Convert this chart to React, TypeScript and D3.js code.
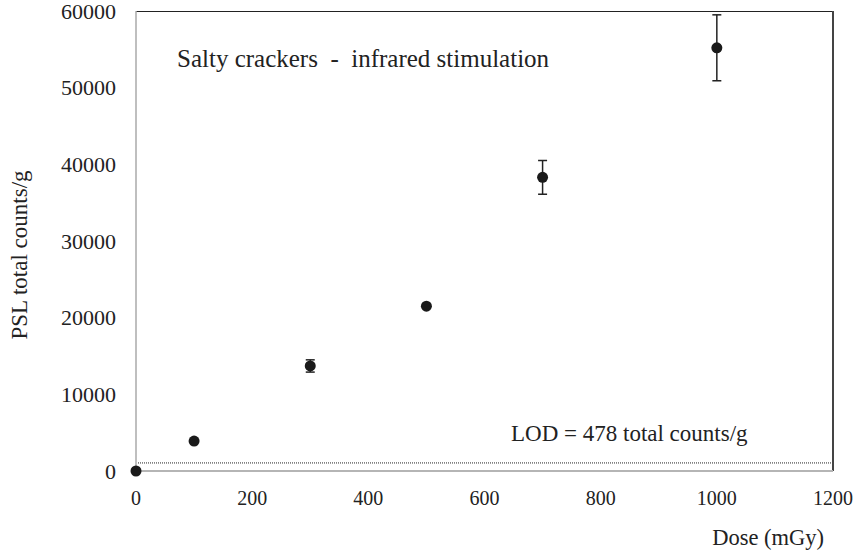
import * as d3 from "d3";
import React, { useEffect, useRef } from "react";

// dose (mGy) and mean PSL counts with error
const doses = [0, 100, 300, 500, 700, 1000];
const counts = [0, 3900, 13700, 21500, 38300, 55200];
const errors = [0, 0, 800, 0, 2200, 4300];
const xTicks = [0, 200, 400, 600, 800, 1000, 1200];
const yTicks = [0, 10000, 20000, 30000, 40000, 50000, 60000];
const lodLevel = 1050;

const App: React.FC = () => {
  const ref = useRef<SVGSVGElement>(null);

  useEffect(() => {
    if (!ref.current) return;
    const svg = d3.select(ref.current);
    svg.selectAll("*").remove();

    const width = 857,
      height = 552,
      margin = { top: 11, right: 24, bottom: 81, left: 136 };
    const font = "'Liberation Serif', 'Times New Roman', serif";

    const x = d3
      .scaleLinear()
      .domain([0, 1200])
      .range([margin.left, width - margin.right]);
    const y = d3
      .scaleLinear()
      .domain([0, 60000])
      .range([height - margin.bottom, margin.top]);

    const pts = doses.map((d, i) => ({ d, c: counts[i], e: errors[i] }));

    // frame: top & right dark, left & bottom gray
    svg
      .append("line")
      .attr("x1", x(0))
      .attr("x2", x(1200))
      .attr("y1", y(60000) + 0.5)
      .attr("y2", y(60000) + 0.5)
      .attr("stroke", "#222")
      .attr("stroke-width", 1);
    svg
      .append("line")
      .attr("x1", x(1200))
      .attr("x2", x(1200))
      .attr("y1", y(60000))
      .attr("y2", y(0))
      .attr("stroke", "#444")
      .attr("stroke-width", 2);
    svg
      .append("line")
      .attr("x1", x(0))
      .attr("x2", x(0))
      .attr("y1", y(60000))
      .attr("y2", y(0))
      .attr("stroke", "#aaa")
      .attr("stroke-width", 1.5);
    svg
      .append("line")
      .attr("x1", x(0))
      .attr("x2", x(1200))
      .attr("y1", y(0))
      .attr("y2", y(0))
      .attr("stroke", "#b5b5b5")
      .attr("stroke-width", 2);

    // LOD dotted line
    svg
      .append("line")
      .attr("x1", x(0) + 2)
      .attr("x2", x(1200) - 1)
      .attr("y1", y(lodLevel))
      .attr("y2", y(lodLevel))
      .attr("stroke", "#222")
      .attr("stroke-width", 1)
      .attr("stroke-dasharray", "1,1");

    // tick labels
    svg
      .append("g")
      .selectAll("text")
      .data(xTicks)
      .enter()
      .append("text")
      .attr("x", (d) => x(d))
      .attr("y", 505)
      .attr("text-anchor", "middle")
      .style("font-family", font)
      .style("font-size", "20px")
      .style("fill", "#222")
      .text((d) => d);

    svg
      .append("g")
      .selectAll("text")
      .data(yTicks)
      .enter()
      .append("text")
      .attr("x", 116)
      .attr("y", (d) => y(d))
      .attr("dy", "0.35em")
      .attr("text-anchor", "end")
      .style("font-family", font)
      .style("font-size", "22px")
      .style("fill", "#222")
      .text((d) => d);

    // error bars
    const eb = svg
      .append("g")
      .selectAll("g")
      .data(pts.filter((p) => p.e > 0))
      .enter()
      .append("g")
      .attr("stroke", "#222")
      .attr("stroke-width", 1.5);
    eb.append("line")
      .attr("x1", (p) => x(p.d))
      .attr("x2", (p) => x(p.d))
      .attr("y1", (p) => y(p.c + p.e))
      .attr("y2", (p) => y(p.c - p.e));
    [1, -1].forEach((s) => {
      eb.append("line")
        .attr("x1", (p) => x(p.d) - 4.5)
        .attr("x2", (p) => x(p.d) + 4.5)
        .attr("y1", (p) => y(p.c + s * p.e))
        .attr("y2", (p) => y(p.c + s * p.e));
    });

    // points
    svg
      .append("g")
      .selectAll("circle")
      .data(pts)
      .enter()
      .append("circle")
      .attr("cx", (p) => x(p.d))
      .attr("cy", (p) => y(p.c))
      .attr("r", 5.5)
      .attr("fill", "#1a1a1a");

    // annotations
    svg
      .append("text")
      .attr("x", 177)
      .attr("y", 67)
      .style("font-family", font)
      .style("font-size", "25px")
      .style("fill", "#222")
      .style("white-space", "pre")
      .text("Salty crackers  -  infrared stimulation");

    svg
      .append("text")
      .attr("x", 511)
      .attr("y", 441)
      .style("font-family", font)
      .style("font-size", "23px")
      .style("fill", "#222")
      .text("LOD = 478 total counts/g");

    svg
      .append("text")
      .attr("x", 824)
      .attr("y", 545)
      .attr("text-anchor", "end")
      .style("font-family", font)
      .style("font-size", "22.5px")
      .style("fill", "#222")
      .text("Dose (mGy)");

    svg
      .append("text")
      .attr("transform", "translate(27,255) rotate(-90)")
      .attr("text-anchor", "middle")
      .style("font-family", font)
      .style("font-size", "23px")
      .style("fill", "#222")
      .text("PSL total counts/g");
  }, []);

  return (
    <svg
      ref={ref}
      width={857}
      height={552}
      style={{ position: "absolute", left: 0, top: 0, background: "#fff" }}
    />
  );
};

export default App;
